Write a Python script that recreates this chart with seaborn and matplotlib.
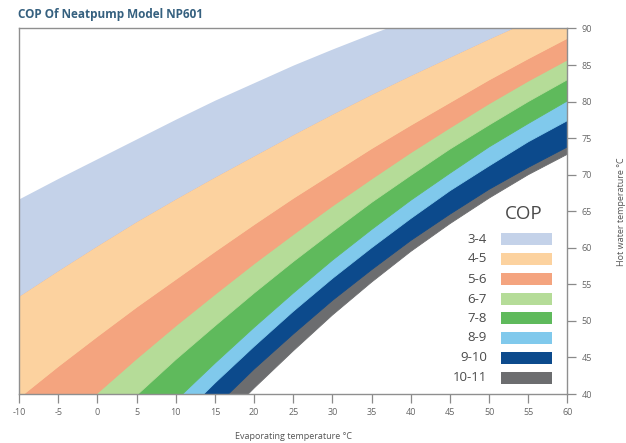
import matplotlib
matplotlib.use("Agg")
import matplotlib.pyplot as plt
from matplotlib.patches import Rectangle
import pandas as pd
import seaborn as sns

# Evaporating temperature grid (°C)
evap_temp = [-10, -5, 0, 5, 10, 15, 20, 25, 30, 35, 40, 45, 50, 55, 60]

# Hot-water temperature (°C) at which the COP crosses each whole value
cop3_edge = [66.7, 69.5, 72.2, 74.9, 77.6, 80.2, 82.6, 85.0, 87.2, 89.3, 91.3, 93.2, 95.0, 96.7, 98.4]
cop4_edge = [53.4, 56.9, 60.3, 63.6, 66.7, 69.7, 72.6, 75.5, 78.3, 81.0, 83.6, 86.1, 88.6, 91.0, 93.3]
cop5_edge = [39.5, 43.8, 47.9, 51.9, 55.7, 59.5, 63.2, 66.8, 70.2, 73.6, 76.8, 79.9, 83.0, 85.9, 88.7]
cop6_edge = [30.6, 35.4, 40.1, 44.8, 49.3, 53.6, 57.8, 61.8, 65.7, 69.4, 73.0, 76.4, 79.7, 82.8, 85.7]
cop7_edge = [24.9, 29.9, 34.9, 39.8, 44.7, 49.3, 53.8, 58.1, 62.2, 66.2, 69.9, 73.5, 76.8, 80.0, 83.0]
cop8_edge = [18.2, 23.4, 28.6, 33.8, 39.1, 44.2, 49.1, 53.8, 58.3, 62.5, 66.5, 70.2, 73.8, 77.0, 80.1]
cop9_edge = [15.4, 20.6, 25.8, 31.0, 36.2, 41.5, 46.5, 51.3, 55.8, 60.0, 64.0, 67.8, 71.2, 74.5, 77.4]
cop10_edge = [12.2, 17.4, 22.6, 27.8, 33.0, 38.2, 43.4, 48.2, 52.8, 57.0, 61.0, 64.6, 68.0, 71.0, 73.8]
cop11_edge = [10.0, 15.0, 20.0, 25.0, 30.0, 35.4, 40.8, 45.9, 50.8, 55.3, 59.5, 63.3, 66.8, 70.0, 72.8]

band_labels = ["3-4", "4-5", "5-6", "6-7", "7-8", "8-9", "9-10", "10-11"]
band_colors = ["#c4d2e9", "#fcd29f", "#f4a47f", "#b5dc98", "#5fba5c",
               "#80c9ec", "#0c4a8c", "#6c6d6f"]

edges = pd.DataFrame({
    "evap": evap_temp,
    "cop3": cop3_edge, "cop4": cop4_edge, "cop5": cop5_edge,
    "cop6": cop6_edge, "cop7": cop7_edge, "cop8": cop8_edge,
    "cop9": cop9_edge, "cop10": cop10_edge, "cop11": cop11_edge,
})
lower_cols = ["cop4", "cop5", "cop6", "cop7", "cop8", "cop9", "cop10", "cop11"]

sns.set_style("white")
plt.rcParams["font.family"] = ["Open Sans", "DejaVu Sans"]
plt.rcParams["axes.unicode_minus"] = False

fig = plt.figure(figsize=(6.26, 4.43), dpi=100)
ax = fig.add_axes([0.0304, 0.1106, 0.8761, 0.8251])

# Paint from the highest-COP band upward so each band covers the one below;
# only the 3-4 band reaches the outer COP 3 edge.
for label, color, low in reversed(list(zip(band_labels, band_colors, lower_cols))):
    top = "cop3" if low == "cop4" else "cop4"
    ax.fill_between(edges["evap"], edges[low], edges[top],
                    color=color, linewidth=0, zorder=1)
    sns.lineplot(data=edges, x="evap", y=low, ax=ax, color=color,
                 linewidth=0.6, zorder=1.5, legend=False)

ax.set_xlim(-10, 60)
ax.set_ylim(40, 90)
ax.set_xticks(range(-10, 61, 5))
ax.set_yticks(range(40, 91, 5))

ax.yaxis.tick_right()
ax.yaxis.set_label_position("right")
ax.tick_params(axis="both", direction="out", length=6.5, width=0.9,
               color="#8a8a8a", labelsize=6.5, labelcolor="#666666", pad=3.5)
ax.tick_params(axis="x", bottom=True, top=False)
ax.tick_params(axis="y", right=True, left=False)

for side, spine in ax.spines.items():
    spine.set_visible(True)
    spine.set_color("#8f8f8f")
    spine.set_linewidth(1.0)
    spine.set_zorder(3)

ax.set_xlabel("Evaporating temperature °C", fontsize=6.5, color="#555555", labelpad=11)
ax.set_ylabel("Hot water temperature °C", fontsize=6.5, color="#555555",
              labelpad=18, rotation=90)

fig.text(0.029, 0.968, "COP Of Neatpump Model NP601", fontsize=8.5,
         fontweight="bold", color="#35607f", ha="left", va="center")

# Legend: label to the left of each colour swatch, heading above the swatches
ax.text(0.9207, 0.492, "COP", transform=ax.transAxes, fontsize=13.5,
        color="#4a4a4a", ha="center", va="center", zorder=5)
row_y = [0.4233, 0.3694, 0.3146, 0.2599, 0.2071, 0.1540, 0.0993, 0.0446]
for label, color, yy in zip(band_labels, band_colors, row_y):
    ax.add_patch(Rectangle((0.879, yy - 0.0164), 0.093, 0.0328,
                           transform=ax.transAxes, facecolor=color,
                           edgecolor="none", zorder=5))
    ax.text(0.853, yy, label, transform=ax.transAxes, fontsize=9.5,
            color="#4a4a4a", ha="right", va="center", zorder=5)

fig.savefig("out.png", dpi=100)
